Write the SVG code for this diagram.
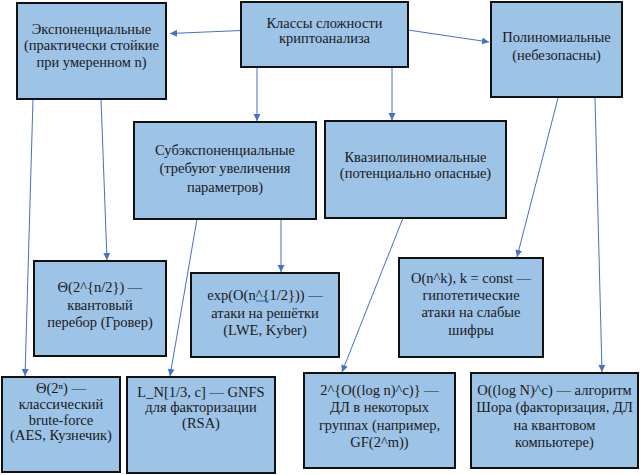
<svg xmlns="http://www.w3.org/2000/svg" width="643" height="475" viewBox="0 0 643 475">
<style>
.box{fill:#9DC3E6;stroke:#111;stroke-width:2}
text{font-family:'Liberation Serif','Times New Roman',Tinos,'DejaVu Serif',serif;font-size:14.5px;fill:#1a1a1a;text-anchor:middle}
.c{stroke:#4472C4;stroke-width:1;fill:none;marker-end:url(#ah)}
</style>
<defs>
<marker id="ah" markerWidth="8" markerHeight="8" refX="7" refY="4" orient="auto" markerUnits="userSpaceOnUse">
<path d="M0,0.5 L7,4 L0,7.5 Z" fill="#4472C4"/>
</marker>
</defs>
<rect width="643" height="475" fill="#fff"/>
<g id="connectors">
<line class="c" x1="241" y1="30.5" x2="170" y2="33.5"/>
<line class="c" x1="408" y1="30" x2="489" y2="42"/>
<line class="c" x1="257" y1="67" x2="257" y2="121"/>
<line class="c" x1="392" y1="67" x2="392" y2="120"/>
<line class="c" x1="33" y1="99" x2="25" y2="376"/>
<line class="c" x1="101" y1="99" x2="107" y2="260"/>
<line class="c" x1="197" y1="219" x2="170" y2="376"/>
<line class="c" x1="281" y1="219" x2="281" y2="272"/>
<line class="c" x1="403" y1="218" x2="342" y2="372"/>
<line class="c" x1="558" y1="98" x2="517" y2="257"/>
<line class="c" x1="595" y1="98" x2="602" y2="372"/>
</g>
<g font-family="Liberation Serif, DejaVu Serif, serif">
<g id="n-top">
<rect class="box" x="241" y="2" width="167" height="65"/>
<text x="324.5" y="28">Классы сложности</text>
<text x="324.5" y="43">криптоанализа</text>
</g>
<g id="n-exp">
<rect class="box" x="17" y="3" width="149" height="96"/>
<text x="91.5" y="34">Экспоненциальные</text>
<text x="91.5" y="50">(практически стойкие</text>
<text x="91.5" y="67">при умеренном n)</text>
</g>
<g id="n-poly">
<rect class="box" x="491" y="2" width="131" height="95"/>
<text x="556.5" y="42">Полиномиальные</text>
<text x="556.5" y="60">(небезопасны)</text>
</g>
<g id="n-subexp">
<rect class="box" x="134" y="122" width="182" height="97"/>
<text x="225" y="155">Субэкспоненциальные</text>
<text x="225" y="173">(требуют увеличения</text>
<text x="225" y="192">параметров)</text>
</g>
<g id="n-quasi">
<rect class="box" x="325" y="121" width="181" height="97"/>
<text x="415.5" y="162">Квазиполиномиальные</text>
<text x="415.5" y="178">(потенциально опасные)</text>
</g>
<g id="n-grover">
<rect class="box" x="34" y="261" width="132" height="95"/>
<text x="100" y="292">Θ(2^{n/2}) —</text>
<text x="100" y="310">квантовый</text>
<text x="100" y="327">перебор (Гровер)</text>
</g>
<g id="n-lattice">
<rect class="box" x="191" y="273" width="148" height="84"/>
<text x="265" y="300">exp(O(n^{1/2})) —</text>
<line x1="256" y1="301" x2="269" y2="301" stroke="#4472C4" stroke-width="1.2"/>
<text x="265" y="318">атаки на решётки</text>
<text x="265" y="335">(LWE, Kyber)</text>
</g>
<g id="n-nk">
<rect class="box" x="399" y="258" width="144" height="99"/>
<text x="471" y="283">O(n^k), k = const —</text>
<text x="471" y="300">гипотетические</text>
<text x="471" y="317">атаки на слабые</text>
<text x="471" y="335">шифры</text>
</g>
<g id="n-brute">
<rect class="box" x="2" y="377" width="118" height="95"/>
<text x="61" y="393">Θ(2ⁿ) —</text>
<text x="61" y="409">классический</text>
<text x="61" y="425">brute-force</text>
<text x="61" y="440">(AES, Кузнечик)</text>
</g>
<g id="n-gnfs">
<rect class="box" x="127" y="377" width="148" height="96"/>
<text x="201" y="397">L_N[1/3, c] — GNFS</text>
<text x="201" y="412">для факторизации</text>
<text x="201" y="428">(RSA)</text>
</g>
<g id="n-dl">
<rect class="box" x="304" y="373" width="151" height="95"/>
<text x="379.5" y="395">2^{O((log n)^c)} —</text>
<text x="379.5" y="412">ДЛ в некоторых</text>
<text x="379.5" y="430">группах (например,</text>
<text x="379.5" y="447">GF(2^m))</text>
</g>
<g id="n-shor">
<rect class="box" x="471" y="373" width="167" height="95"/>
<text x="554.5" y="395">O((log N)^c) — алгоритм</text>
<text x="554.5" y="412">Шора (факторизация, ДЛ</text>
<text x="554.5" y="430">на квантовом</text>
<text x="554.5" y="447">компьютере)</text>
</g>
</g>
</svg>
